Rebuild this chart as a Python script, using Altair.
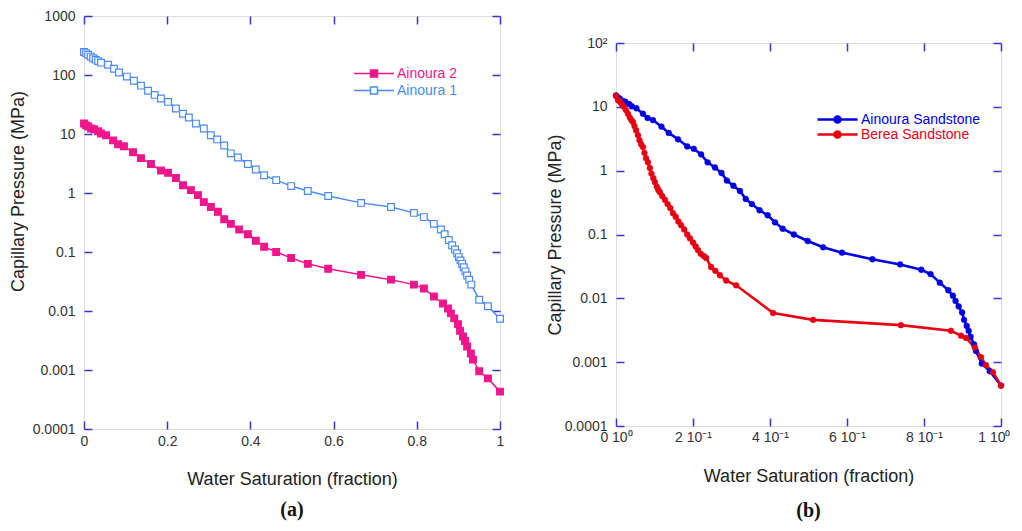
import json
import pandas as pd
import altair as alt

# ---------------- Panel (a) data ----------------
a2_x = [0.000, 0.005, 0.010, 0.017, 0.024, 0.034, 0.041, 0.053, 0.070, 0.082,
        0.096, 0.118, 0.137, 0.161, 0.185, 0.202, 0.221, 0.238, 0.257, 0.274,
        0.288, 0.305, 0.322, 0.337, 0.353, 0.373, 0.394, 0.413, 0.433, 0.462,
        0.498, 0.538, 0.587, 0.666, 0.738, 0.793, 0.817, 0.841, 0.863, 0.875,
        0.882, 0.890, 0.899, 0.904, 0.911, 0.916, 0.921, 0.930, 0.935, 0.950,
        0.971, 1.000]
a2_y = [15.1, 14.0, 13.4, 12.4, 12.0, 11.1, 10.2, 9.5, 7.8, 6.7,
        6.2, 4.9, 3.9, 3.1, 2.4, 2.2, 1.8, 1.35, 1.12, 0.92,
        0.70, 0.58, 0.48, 0.36, 0.30, 0.24, 0.20, 0.155, 0.123, 0.100,
        0.079, 0.063, 0.052, 0.041, 0.034, 0.028, 0.024, 0.0176, 0.0134, 0.011,
        0.0091, 0.0075, 0.0060, 0.0046, 0.0037, 0.0031, 0.0025, 0.0019, 0.0015, 0.00095,
        0.00072, 0.00043]

a1_x = [0.000, 0.005, 0.010, 0.016, 0.022, 0.028, 0.034, 0.041, 0.058, 0.072,
        0.084, 0.103, 0.120, 0.137, 0.154, 0.170, 0.185, 0.202, 0.221, 0.238,
        0.252, 0.269, 0.288, 0.305, 0.320, 0.337, 0.353, 0.370, 0.394, 0.413,
        0.433, 0.462, 0.498, 0.538, 0.587, 0.666, 0.738, 0.793, 0.817, 0.841,
        0.858, 0.867, 0.877, 0.885, 0.892, 0.897, 0.901, 0.905, 0.909, 0.913,
        0.917, 0.921, 0.926, 0.931, 0.950, 0.971, 1.000]
a1_y = [245, 235, 220, 205, 192, 182, 172, 162, 149, 128,
        110, 94, 80, 66, 54, 46, 40, 35, 27, 22,
        19, 15, 12.4, 9.5, 8.1, 6.4, 4.7, 4.0, 3.1, 2.5,
        2.0, 1.65, 1.31, 1.08, 0.89, 0.68, 0.58, 0.46, 0.39, 0.30,
        0.24, 0.20, 0.16, 0.13, 0.11, 0.095, 0.082, 0.072, 0.063, 0.055,
        0.047, 0.040, 0.034, 0.028, 0.0155, 0.012, 0.0074]

# ---------------- Panel (b) data ----------------
# the Ainoura sandstone curve of panel (b) is the Ainoura 2 data set
ains_x = a2_x
ains_y = a2_y

berea_x = [0.000, 0.005, 0.010, 0.015, 0.020, 0.026, 0.031, 0.036, 0.040, 0.044,
           0.048, 0.052, 0.057, 0.061, 0.065, 0.070, 0.074, 0.078, 0.083, 0.088,
           0.092, 0.097, 0.101, 0.106, 0.110, 0.114, 0.120, 0.127, 0.134, 0.141,
           0.148, 0.155, 0.162, 0.169, 0.177, 0.185, 0.192, 0.200, 0.207, 0.213,
           0.220, 0.228, 0.234, 0.247, 0.258, 0.270, 0.286, 0.312, 0.408, 0.512,
           0.740, 0.870, 0.896, 0.909, 0.932, 0.948, 0.961, 0.979, 1.000]
berea_y = [14.8, 12.8, 12.0, 11.0, 10.0, 8.9, 7.8, 6.8, 6.2, 5.8,
           5.0, 4.3, 3.6, 3.0, 2.6, 2.34, 1.9, 1.57, 1.35, 1.1,
           0.9, 0.76, 0.66, 0.56, 0.50, 0.46, 0.40, 0.35, 0.30, 0.26,
           0.216, 0.19, 0.16, 0.14, 0.12, 0.10, 0.087, 0.075, 0.065, 0.057,
           0.050, 0.046, 0.043, 0.031, 0.027, 0.023, 0.019, 0.016, 0.0059, 0.0046,
           0.0038, 0.0031, 0.0026, 0.0024, 0.0017, 0.0012, 0.0009, 0.0007, 0.00043]

left_series = ["Ainoura 2", "Ainoura 1"]
right_series = ["Ainoura Sandstone", "Berea Sandstone"]

x_ticks = [0.0, 0.2, 0.4, 0.6, 0.8, 1.0]
left_x_labels = ["0", "0.2", "0.4", "0.6", "0.8", "1"]
right_x_labels = ["0 10\u2070", "2 10\u207b\u00b9", "4 10\u207b\u00b9",
                  "6 10\u207b\u00b9", "8 10\u207b\u00b9", "1 10\u2070"]
left_y_ticks = [1e-4, 1e-3, 1e-2, 1e-1, 1, 10, 100, 1000]
left_y_labels = ["0.0001", "0.001", "0.01", "0.1", "1", "10", "100", "1000"]
right_y_ticks = [1e-4, 1e-3, 1e-2, 1e-1, 1, 10, 100]
right_y_labels = ["0.0001", "0.001", "0.01", "0.1", "1", "10", "10\u00b2"]

# ---------------- style ----------------
FRAME = "#3636cc"
TEXT = "#333333"
FONT = "Liberation Sans"
left_colors = ["#ef168b", "#4a8af4"]
left_fills = ["#ef168b", "#ffffff"]
right_colors = ["#0000e0", "#e60012"]
right_fills = ["#0000e0", "#e60012"]

# legend glyphs: a 40px line with a marker in the middle (unit = 7px, symbolSize 196)
SQ_PATH = "M-2.86,0H-0.5M0.5,0H2.86M-0.5,-0.5H0.5V0.5H-0.5Z"
CIRC_PATH = "M-2.86,0H2.86M0.43,0A0.43,0.43,0,1,1,-0.43,0A0.43,0.43,0,1,1,0.43,0Z"


def long_df(series, xs_list, ys_list):
    rows = []
    for s, xs, ys in zip(series, xs_list, ys_list):
        for xv, yv in zip(xs, ys):
            rows.append({"series": s, "sw": xv, "pc": yv})
    return pd.DataFrame(rows)


def lookup_expr(labels, key):
    return json.dumps(labels, ensure_ascii=False) + "[" + key + "]"


def pick_expr(series, values):
    return f"datum.value == '{series[0]}' ? '{values[0]}' : '{values[1]}'"


tick_common = dict(domain=False, grid=False, ticks=True, tickSize=8, tickWidth=1.5,
                   tickColor=FRAME, offset=-8)
text_common = dict(labelFont=FONT, labelFontSize=14, labelColor=TEXT,
                   titleFont=FONT, titleFontSize=18, titleFontWeight="normal",
                   titleColor="#222222", labelFlush=False, labelOverlap=False,
                   labelBound=False)


def panel(df, series, colors, fills, x_labels, y_ticks, y_labels, y_dom, w, h,
          leg_x, leg_y, sym_path, line_w, pt_shape, pt_size, pt_sw,
          lab_pad_x, title_pad_x, title_pad_y, y_extra, x_extra, letter, letter_off,
          row_pad):
    xs = alt.Scale(domain=[0, 1], nice=False, zero=False)
    ys = alt.Scale(type="log", domain=y_dom, nice=False)
    y_axis_kw = dict(orient="left", values=y_ticks,
                     labelExpr=lookup_expr(y_labels, "round(log(datum.value)/LN10)+4"),
                     labelPadding=9, title="Capillary Pressure (MPa)",
                     titlePadding=title_pad_y, **tick_common, **text_common)
    y_axis_kw.update(y_extra)
    x_axis_kw = dict(orient="bottom", values=x_ticks,
                     labelExpr=lookup_expr(x_labels, "round(datum.value*5)"),
                     labelPadding=lab_pad_x, title="Water Saturation (fraction)",
                     titlePadding=title_pad_x, **tick_common, **text_common)
    x_axis_kw.update(x_extra)

    legend = alt.Legend(title=None, orient="none", legendX=leg_x, legendY=leg_y,
                        symbolType=sym_path, symbolSize=196, symbolOffset=13,
                        symbolStrokeWidth=line_w,
                        symbolFillColor={"expr": pick_expr(series, fills)},
                        symbolOpacity=1,
                        labelColor={"expr": pick_expr(series, colors)},
                        labelFont=FONT, labelFontSize=14, labelOffset=15,
                        clipHeight=15, rowPadding=row_pad, padding=0)

    line = alt.Chart(df).mark_line(strokeWidth=line_w, clip=False).encode(
        x=alt.X("sw:Q", scale=xs, axis=alt.Axis(**x_axis_kw)),
        y=alt.Y("pc:Q", scale=ys, axis=alt.Axis(**y_axis_kw)),
        color=alt.Color("series:N", scale=alt.Scale(domain=series, range=colors),
                        legend=legend, sort=series),
    )
    pts = alt.Chart(df).mark_point(shape=pt_shape, size=pt_size, filled=True,
                                   strokeWidth=pt_sw, opacity=1, clip=False).encode(
        x=alt.X("sw:Q", scale=xs, axis=None),
        y=alt.Y("pc:Q", scale=ys, axis=None),
        stroke=alt.Stroke("series:N", scale=alt.Scale(domain=series, range=colors), legend=None),
        fill=alt.Fill("series:N", scale=alt.Scale(domain=series, range=fills), legend=None),
    )
    mirror = alt.Chart(df).mark_point(opacity=0, size=0).encode(
        x=alt.X("sw:Q", scale=xs,
                axis=alt.Axis(orient="top", values=x_ticks, labels=False, title=None,
                              **tick_common)),
        y=alt.Y("pc:Q", scale=ys,
                axis=alt.Axis(orient="right", values=y_ticks, labels=False, title=None,
                              **tick_common)),
    )
    return alt.layer(line, pts, mirror).properties(
        width=w, height=h,
        title=alt.TitleParams(text=letter, orient="bottom", anchor="middle", frame="group",
                              font="Liberation Serif", fontSize=20, fontWeight="bold",
                              color="#111111", offset=letter_off),
    )


df_left = long_df(left_series, [a2_x, a1_x], [a2_y, a1_y])
df_right = long_df(right_series, [ains_x, berea_x], [ains_y, berea_y])

left = panel(df_left, left_series, left_colors, left_fills, left_x_labels,
             left_y_ticks, left_y_labels, [1e-4, 1000], 416, 413,
             269, 50, SQ_PATH, 1.5, "square", 45, 1.2,
             5, 22, 5, {"titleY": 175}, {}, "(a)", 12, 2)

right_x_extra = {
    "labelAlign": {"condition": {"test": "datum.value == 1", "value": "right"}, "value": "center"},
    "labelOffset": {"condition": {"test": "datum.value == 1", "value": 9}, "value": 0},
}
right = panel(df_right, right_series, right_colors, right_fills, right_x_labels,
              right_y_ticks, right_y_labels, [1e-4, 100], 385, 383,
              200, 96, CIRC_PATH, 2.6, "circle", 34, 0.5,
              4, 23, 0, {}, right_x_extra, "(b)", 16, 0)

spacer = alt.Chart(pd.DataFrame({"v": [0.0, 1.0]})).mark_point(size=0, opacity=0).encode(
    x=alt.X("v:Q", axis=None, scale=alt.Scale(domain=[0, 1])),
    y=alt.Y("v:Q", axis=None, scale=alt.Scale(domain=[0, 1])),
).properties(width=1, height=18, view=alt.ViewBackground(stroke="transparent"))

chart = alt.hconcat(
    left, alt.vconcat(spacer, right, spacing=0), spacing=38
).resolve_scale(
    color="independent", stroke="independent", fill="independent"
).configure_view(
    stroke=FRAME, strokeWidth=1.5
).configure(font=FONT).properties(padding=0)

chart.save("out.html", embed_options={"renderer": "svg", "actions": False})
